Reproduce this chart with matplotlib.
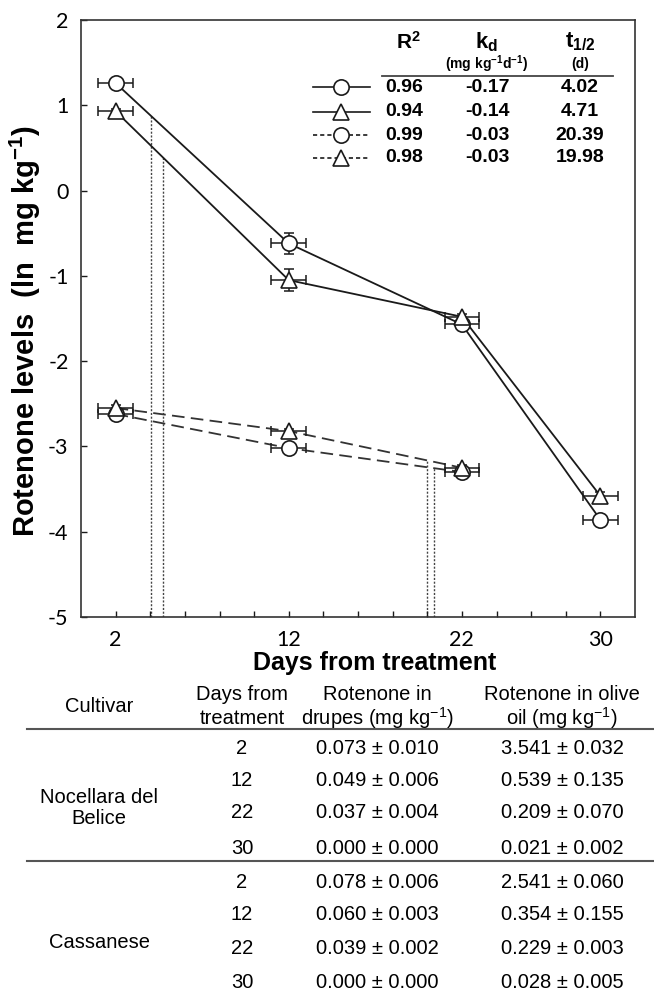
import numpy as np
import matplotlib
matplotlib.use("Agg")
import matplotlib.pyplot as plt
from matplotlib.lines import Line2D
from matplotlib.transforms import Affine2D

plt.rcParams['font.family'] = ['Liberation Sans', 'DejaVu Sans']
plt.rcParams['mathtext.fontset'] = 'custom'
plt.rcParams['mathtext.rm'] = 'Liberation Sans'
plt.rcParams['mathtext.bf'] = 'Liberation Sans:bold'
plt.rcParams['mathtext.it'] = 'Liberation Sans:italic'

# ---------------- data ----------------
days = [2, 12, 22, 30]
days_drupes = [2, 12, 22]
oil_noc = [1.26, -0.62, -1.57, -3.86]
oil_noc_err = [0.03, 0.12, 0.04, 0.03]
oil_cas = [0.93, -1.05, -1.48, -3.58]
oil_cas_err = [0.03, 0.13, 0.03, 0.04]
dru_noc = [-2.62, -3.02, -3.30]
dru_noc_err = [0.03, 0.03, 0.03]
dru_cas = [-2.55, -2.82, -3.25]
dru_cas_err = [0.03, 0.03, 0.03]
day_err = 1.0

r2 = ["0.96", "0.94", "0.99", "0.98"]
kd = ["-0.17", "-0.14", "-0.03", "-0.03"]
t_half = [4.02, 4.71, 20.39, 19.98]
t_half_lbl = ["4.02", "4.71", "20.39", "19.98"]

xtick_pos = list(range(2, 31, 2))
xtick_lbl = ["2", "12", "22", "30"]
ytick_pos = [2, 1, 0, -1, -2, -3, -4, -5]

cultivars = ["Nocellara del\nBelice", "Cassanese"]
table_days = [2, 12, 22, 30]
drupes_mean = [[0.073, 0.049, 0.037, 0.000], [0.078, 0.060, 0.039, 0.000]]
drupes_sd = [[0.010, 0.006, 0.004, 0.000], [0.006, 0.003, 0.002, 0.000]]
oil_mean = [[3.541, 0.539, 0.209, 0.021], [2.541, 0.354, 0.229, 0.028]]
oil_sd = [[0.032, 0.135, 0.070, 0.002], [0.060, 0.155, 0.003, 0.005]]

# ---------------- figure ----------------
W, H = 654, 992
fig = plt.figure(figsize=(W / 100, H / 100), dpi=100)
px = Affine2D().scale(1 / W, -1 / H).translate(0, 1) + fig.transFigure

L, R, T, B = 81, 635, 20, 617
ax = fig.add_axes([L / W, 1 - B / H, (R - L) / W, (B - T) / H])
ax.set_xlim(0, 32)
ax.set_ylim(-5, 2)

ink = '#1a1a1a'
dash_ink = '#333333'
series = [
    (days, oil_noc, oil_noc_err, 'o', '-', ink, 11),
    (days, oil_cas, oil_cas_err, '^', '-', ink, 12),
    (days_drupes, dru_noc, dru_noc_err, 'o', (0, (7, 3.5)), dash_ink, 11),
    (days_drupes, dru_cas, dru_cas_err, '^', (0, (7, 3.5)), dash_ink, 12),
]

# half-life drop lines
for (xs, ys, _, _, _, _, _), th in zip(series, t_half):
    top = np.interp(th, xs, ys)
    ax.plot([th, th], [-5, top], color='#444444', lw=1.0, ls=(0, (1.5, 1.2)), zorder=1)

for xs, ys, ye, mk, ls, col, ms in series:
    ax.plot(xs, ys, ls=ls, color=col, lw=1.3, zorder=2)
    ax.errorbar(xs, ys, xerr=day_err, yerr=ye, fmt='none', ecolor=ink,
                elinewidth=1.1, capsize=3.5, capthick=1.1, zorder=3)
    ax.plot(xs, ys, ls='none', marker=mk, ms=ms, mfc='white', mec=ink, mew=1.2, zorder=4)

ax.set_xticks(xtick_pos)
ax.set_xticklabels([str(d) if str(d) in xtick_lbl else '' for d in xtick_pos])
ax.set_yticks(ytick_pos)
ax.set_yticklabels([str(v) for v in ytick_pos])
ax.tick_params(direction='in', length=4, width=1, color=ink, labelsize=15.5, pad=9)
for lab in ax.get_xticklabels() + ax.get_yticklabels():
    lab.set_family(['Lato', 'DejaVu Sans'])
for sp in ax.spines.values():
    sp.set_linewidth(1.2)
    sp.set_color('#333333')

fig.text(25, 331, r'Rotenone levels  (ln  mg kg$^{\mathbf{-1}}$)', transform=px,
         rotation=90, ha='center', va='center', fontsize=21, fontweight='bold')
fig.text(375, 663, 'Days from treatment', transform=px, ha='center', va='center',
         fontsize=18, fontweight='bold')

# ---------------- inset legend table ----------------
col_x = [404, 487, 580]
row_y = [87, 112, 135, 158]
fig.text(col_x[0] + 4, 42, r'$\mathbf{R^2}$', transform=px, ha='center', va='center', fontsize=15)
fig.text(col_x[1], 42, r'$\mathbf{k_d}$', transform=px, ha='center', va='center', fontsize=16)
fig.text(col_x[2], 42, r'$\mathbf{t_{1/2}}$', transform=px, ha='center', va='center', fontsize=16)
fig.text(col_x[1], 64, r'(mg kg$^{\mathbf{-1}}$d$^{\mathbf{-1}}$)', transform=px, ha='center',
         va='center', fontsize=10, fontweight='bold')
fig.text(col_x[2], 64, '(d)', transform=px, ha='center', va='center', fontsize=10, fontweight='bold')
fig.add_artist(Line2D([382, 613], [76, 76], transform=px, color='#444444', lw=1.3))

leg_ls = ['-', '-', (0, (2.5, 1.8)), (0, (2.5, 1.8))]
for i, (s, y) in enumerate(zip(series, row_y)):
    mk, ms = s[3], s[6]
    fig.add_artist(Line2D([313, 341, 370], [y, y, y], transform=px, color=ink, lw=1.2,
                          ls=leg_ls[i], marker=mk, markevery=[1], ms=ms, mfc='white',
                          mec=ink, mew=1.2))
    for cx, txt in zip(col_x, [r2[i], kd[i], t_half_lbl[i]]):
        fig.text(cx, y, txt, transform=px, ha='center', va='center', fontsize=14,
                 fontweight='bold')

# ---------------- bottom table ----------------
tfs = 14.5
hdr_x = [99, 242, 377, 562]
fig.text(hdr_x[0], 707, 'Cultivar', transform=px, ha='center', va='center', fontsize=tfs)
fig.text(hdr_x[1], 695, 'Days from', transform=px, ha='center', va='center', fontsize=tfs)
fig.text(hdr_x[1], 718, 'treatment', transform=px, ha='center', va='center', fontsize=tfs)
fig.text(hdr_x[2], 695, 'Rotenone in', transform=px, ha='center', va='center', fontsize=tfs)
fig.text(hdr_x[2], 718, r'drupes (mg kg$^{-1}$)', transform=px, ha='center', va='center', fontsize=tfs)
fig.text(hdr_x[3], 695, 'Rotenone in olive', transform=px, ha='center', va='center', fontsize=tfs)
fig.text(hdr_x[3], 718, r'oil (mg kg$^{-1}$)', transform=px, ha='center', va='center', fontsize=tfs)

fig.add_artist(Line2D([27, 654], [729, 729], transform=px, color='#555555', lw=1.5))
fig.add_artist(Line2D([27, 654], [861, 861], transform=px, color='#555555', lw=1.5))

rows_y = [[748, 780, 813, 848], [882, 914, 948, 982]]
cult_y = [808, 942]
for g in range(2):
    fig.text(hdr_x[0], cult_y[g], cultivars[g], transform=px, ha='center', va='center',
             fontsize=tfs, linespacing=1.15)
    for j, d in enumerate(table_days):
        y = rows_y[g][j]
        fig.text(hdr_x[1], y, str(d), transform=px, ha='center', va='center', fontsize=tfs)
        fig.text(hdr_x[2], y, f"{drupes_mean[g][j]:.3f} ± {drupes_sd[g][j]:.3f}", transform=px,
                 ha='center', va='center', fontsize=tfs)
        fig.text(hdr_x[3], y, f"{oil_mean[g][j]:.3f} ± {oil_sd[g][j]:.3f}", transform=px,
                 ha='center', va='center', fontsize=tfs)

fig.savefig('out.png', dpi=100)
